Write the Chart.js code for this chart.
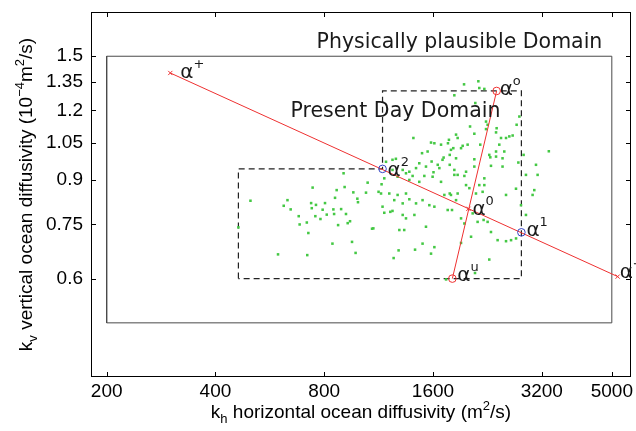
<!DOCTYPE html>
<html>
<head>
<meta charset="utf-8">
<script src="https://cdn.jsdelivr.net/npm/chart.js@4.4.1/dist/chart.umd.min.js"></script>
<style>
  html, body { margin: 0; padding: 0; background: #fff; }
  canvas { display: block; }
</style>
</head>
<body>
<canvas id="domainChart" width="636" height="431"></canvas>
<script>
// ---------------- DATA ----------------
const khTicks = [200, 400, 800, 1600, 3200, 5000];
const kvTicks = [0.6, 0.75, 0.9, 1.05, 1.2, 1.35, 1.5];

// physically plausible domain (rectangle)
const plausibleKh = [200, 5000, 5000, 200, 200];
const plausibleKv = [0.5, 0.5, 1.5, 1.5, 0.5];

// present day domain (dashed outline)
const presentKh = [463, 463, 1160, 1160, 2810, 2810, 463];
const presentKv = [0.6, 0.943, 0.943, 1.3, 1.3, 0.6, 0.6];

// ensemble members (green dots)
const ensembleKh = [500,463,618,633,646,680,684,716,723,743,736,739,759,756,781,792,804,813,848,852,
  857,866,874,891,911,919,929,943,963,988,992,955,977,843,718,596,1044,1055,1085,1131,905,1094,
  1153,1149,1160,1173,1211,1219,1250,1236,1277,1319,1319,1347,1376,1421,1436,1497,1563,1614,1347,1291,
  1332,1530,1497,1427,1285,1245,1580,1614,
  1466,1376,1319,1186,1236,1263,1173,1236,1277,1347,1405,1376,1466,1436,1530,1514,1596,1605,1666,1700,
  1649,1684,
  1757,1806,1913,1954,2060,2126,2209,2266,2315,2415,2548,2631,2716,2039,1913,2290,1739,
  2195,2219,2149,2104,2017,1975,1872,1833,1794,1853,1872,1780,1720,1780,2492,2548,2715,2803,2091,2219,
  2082,2082,1975,1954,1833,2315,2391,2492,2305,1853,1780,1712,1586,1492,1546,2756,2850,2893,3051,3018,
  3116,3084,2893,3347,
  1950,2136,2149,2219,1833,2095,2266,2243,2391,2468,2548,2602,2658,2726,2026,2082,1412,1614,1771,1760,
  1853,1872,1933,1913,1821,1794,1995,2162,2391,2520,2774,2243,2400,1684,1580,2290,2441];
const ensembleKv = [0.827,0.741,0.81,0.829,0.798,0.776,0.75,0.756,0.724,0.873,0.819,0.802,0.813,0.776,0.767,0.797,0.819,0.781,0.798,0.783,
  0.837,0.864,0.748,0.799,0.875,0.783,0.754,0.76,0.856,0.834,0.822,0.698,0.667,0.693,0.661,0.663,0.855,0.891,0.737,0.858,0.926,0.738,
  0.885,0.852,0.807,0.787,0.852,0.79,0.829,0.793,0.847,0.818,0.78,0.852,0.832,0.78,0.818,0.829,0.812,0.807,0.769,0.733,
  0.733,0.743,0.693,0.676,0.674,0.653,0.665,0.683,
  0.965,0.932,0.939,0.971,0.979,0.983,0.907,0.939,0.913,0.926,0.916,0.901,0.894,0.946,0.952,0.916,0.913,0.93,0.946,0.979,
  0.959,0.894,
  0.796,0.796,0.769,0.753,0.785,0.758,0.764,0.758,0.727,0.703,0.70,0.703,0.708,0.713,0.695,0.649,0.598,
  0.858,0.882,0.882,0.852,0.871,0.882,0.92,0.92,0.847,0.829,0.852,0.852,0.847,0.959,0.952,0.847,0.869,0.812,0.614,0.907,
  0.981,0.952,0.932,0.916,0.939,0.955,0.992,0.985,0.989,0.985,0.999,0.988,0.972,1.006,1.013,0.968,0.999,0.92,0.864,0.847,
  0.92,0.959,0.78,1.014,
  1.336,1.353,1.316,1.311,1.277,1.237,1.131,1.111,1.096,1.071,1.071,1.078,1.082,1.131,1.123,1.09,1.071,1.048,1.063,1.048,
  1.086,1.071,1.037,1.027,1.027,1.02,1.042,1.042,1.013,1.013,1.17,1.146,1.115,1.042,1.051,0.999,1.042];

// named parameter sets alpha^...
const alphaNames = ["+", "2", "0", "1", "-", "u", "o"];
const alphaKh = [300, 1160, 2005, 2810, 5190, 1810, 2400];
const alphaKv = [1.40, 0.943, 0.80, 0.726, 0.605, 0.60, 1.30];

// ---------------- STYLE ----------------
const RED = "#ee3030";
const BLUE = "#3344c4";
const GREEN = "#44c844";
const alphaStyle = ["crossRot", "circle", "crossRot", "circle", "crossRot", "circle", "circle"];
const alphaColor = [RED, BLUE, RED, BLUE, RED, RED, RED];
// label offsets in px from the marker: [dx, dy]
const alphaOffset = [[10, 5], [5, 7], [4, 6], [5, 4], [2, 1], [5, 2], [3, 4]];

const toPts = (xs, ys) => xs.map((x, i) => ({ x: x, y: ys[i] }));
const pick = idx => idx.map(i => ({ x: alphaKh[i], y: alphaKv[i] }));

// ---------------- PLUGINS ----------------
function drawRich(ctx, parts, x, y, align) {
  // parts: [text, "n" | "sub" | "sup"]
  const big = "19px 'Liberation Sans', Arial, sans-serif";
  const small = "13px 'Liberation Sans', Arial, sans-serif";
  let w = 0;
  parts.forEach(p => { ctx.font = p[1] === "n" ? big : small; w += ctx.measureText(p[0]).width; });
  let cx = align === "center" ? x - w / 2 : x;
  ctx.textAlign = "left";
  ctx.textBaseline = "alphabetic";
  parts.forEach(p => {
    ctx.font = p[1] === "n" ? big : small;
    const dy = p[1] === "sub" ? 5 : p[1] === "sup" ? -8 : 0;
    ctx.fillText(p[0], cx, y + dy);
    cx += ctx.measureText(p[0]).width;
  });
}

const framePlugin = {
  id: "frame",
  afterDatasetsDraw(chart) {
    const { ctx, chartArea: a, scales } = chart;
    ctx.save();
    ctx.strokeStyle = "#000";
    ctx.lineWidth = 1;
    ctx.strokeRect(Math.round(a.left) + 0.5, Math.round(a.top) + 0.5,
      Math.round(a.right - a.left) - 1, Math.round(a.bottom - a.top) - 1);
    ctx.beginPath();
    const t = 5;
    khTicks.forEach(v => {
      const px = Math.round(scales.x.getPixelForValue(v)) + 0.5;
      ctx.moveTo(px, a.bottom); ctx.lineTo(px, a.bottom - t);
      ctx.moveTo(px, a.top); ctx.lineTo(px, a.top + t);
    });
    kvTicks.forEach(v => {
      const py = Math.round(scales.y.getPixelForValue(v)) + 0.5;
      ctx.moveTo(a.left, py); ctx.lineTo(a.left + t, py);
      ctx.moveTo(a.right, py); ctx.lineTo(a.right - t, py);
    });
    ctx.stroke();
    ctx.restore();
  }
};

const labelPlugin = {
  id: "labels",
  afterDraw(chart) {
    const { ctx, scales, chartArea: a } = chart;
    const X = v => scales.x.getPixelForValue(v);
    const Y = v => scales.y.getPixelForValue(v);
    ctx.save();
    ctx.fillStyle = "#1a1a1a";
    ctx.textAlign = "left";
    ctx.textBaseline = "alphabetic";
    ctx.font = "20.5px 'DejaVu Sans', sans-serif";
    ctx.fillText("Physically plausible Domain", X(762), Y(1.553));
    ctx.fillText("Present Day Domain", X(645), Y(1.17));

    alphaNames.forEach((s, i) => {
      const x = X(alphaKh[i]) + alphaOffset[i][0];
      const y = Y(alphaKv[i]) + alphaOffset[i][1];
      ctx.font = "20px 'DejaVu Sans', sans-serif";
      ctx.fillText("\u03b1", x, y);
      const w = ctx.measureText("\u03b1").width;
      ctx.font = "13px 'DejaVu Sans', sans-serif";
      ctx.fillText(s === "-" ? "\u2212" : s, x + w, y - 10);
    });

    // axis titles
    ctx.fillStyle = "#000";
    drawRich(ctx, [["k", "n"], ["h", "sub"], [" horizontal ocean diffusivity (m", "n"], ["2", "sup"], ["/s)", "n"]],
      (a.left + a.right) / 2, 418, "center");
    ctx.translate(32, (a.top + a.bottom) / 2);
    ctx.rotate(-Math.PI / 2);
    drawRich(ctx, [["k", "n"], ["v", "sub"], [" vertical ocean diffusivity (10", "n"], ["\u22124", "sup"],
      ["m", "n"], ["2", "sup"], ["/s)", "n"]], 0, 0, "center");
    ctx.restore();
  }
};

// ---------------- CHART ----------------
const tickFont = { family: "'Liberation Sans', Arial, sans-serif", size: 19 };

new Chart(document.getElementById("domainChart"), {
  type: "scatter",
  data: {
    datasets: [
      {
        data: pick([0, 1, 2, 3, 4, 5, 6]),
        pointStyle: alphaStyle,
        borderColor: alphaColor,
        backgroundColor: "rgba(0,0,0,0)",
        pointRadius: alphaStyle.map(s => s === "circle" ? 3.8 : 3),
        pointBorderWidth: 1,
        showLine: false,
        order: 0
      },
      {
        data: pick([0, 4]),
        showLine: true, borderColor: RED, borderWidth: 1, pointRadius: 0, order: 1
      },
      {
        data: pick([5, 6]),
        showLine: true, borderColor: RED, borderWidth: 1, pointRadius: 0, order: 1
      },
      {
        data: toPts(ensembleKh, ensembleKv),
        pointStyle: "rect", pointRadius: 1.8, pointBorderWidth: 0,
        backgroundColor: GREEN, showLine: false, order: 2
      },
      {
        data: toPts(presentKh, presentKv),
        showLine: true, borderColor: "#222", borderWidth: 1.2, borderDash: [6, 4],
        pointRadius: 0, order: 3
      },
      {
        data: toPts(plausibleKh, plausibleKv),
        showLine: true, borderColor: "#4a4a4a", borderWidth: 1, pointRadius: 0, order: 3
      }
    ]
  },
  options: {
    responsive: false,
    animation: false,
    devicePixelRatio: 1,
    layout: { padding: { top: 12, right: 4, left: 0, bottom: 0 } },
    plugins: { legend: { display: false }, tooltip: { enabled: false } },
    scales: {
      x: {
        type: "logarithmic",
        min: 181, max: 5650,
        afterBuildTicks: s => { s.ticks = khTicks.map(v => ({ value: v })); },
        afterFit: s => { s.height = 54; s.paddingLeft = 0; s.paddingRight = 0; },
        ticks: { callback: v => String(v), font: tickFont, color: "#000", padding: 3,
                 maxRotation: 0, autoSkip: false },
        grid: { display: false, drawTicks: false },
        border: { display: false }
      },
      y: {
        type: "logarithmic",
        min: 0.4, max: 1.8,
        afterBuildTicks: s => { s.ticks = kvTicks.map(v => ({ value: v })); },
        afterFit: s => { s.width = 91; s.paddingTop = 0; s.paddingBottom = 0; },
        ticks: { callback: v => String(v), font: tickFont, color: "#000", padding: 8, autoSkip: false },
        grid: { display: false, drawTicks: false },
        border: { display: false }
      }
    }
  },
  plugins: [framePlugin, labelPlugin]
});
</script>
</body>
</html>
